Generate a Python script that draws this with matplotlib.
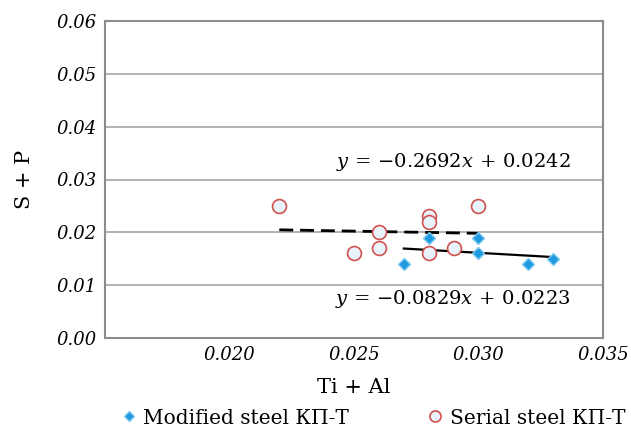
import numpy as np
import matplotlib
matplotlib.use("Agg")
import matplotlib.pyplot as plt

# Modified steel (diamonds)
mod_x = [0.027, 0.028, 0.030, 0.030, 0.032, 0.033]
mod_y = [0.014, 0.019, 0.019, 0.016, 0.014, 0.015]

# Serial steel (circles)
ser_x = [0.022, 0.025, 0.026, 0.026, 0.028, 0.028, 0.028, 0.029, 0.030]
ser_y = [0.025, 0.016, 0.020, 0.017, 0.023, 0.022, 0.016, 0.017, 0.025]

# trend lines: slope, intercept
fit_solid = (-0.2692, 0.0242)
fit_dash = (-0.0829, 0.0223)

x_ticks = [0.020, 0.025, 0.030, 0.035]
y_ticks = [0.00, 0.01, 0.02, 0.03, 0.04, 0.05, 0.06]

plt.rcParams['font.family'] = ['DejaVu Serif']
plt.rcParams['mathtext.fontset'] = 'dejavuserif'

fig = plt.figure(figsize=(6.31, 4.30), dpi=100)
ax = fig.add_axes([105 / 631, 1 - 338 / 430, 498 / 631, 317 / 430])

ax.set_xlim(0.015, 0.035)
ax.set_ylim(0, 0.06)
ax.set_yticks(y_ticks)
ax.set_xticks(x_ticks)
ax.set_yticklabels(['%.2f' % v for v in y_ticks], fontstyle='italic', fontsize=13)
ax.set_xticklabels(['%.3f' % v for v in x_ticks], fontstyle='italic', fontsize=13)
ax.tick_params(length=0, pad=6)
ax.grid(axis='y', color='#a6a6a6', lw=1.2)
ax.set_axisbelow(True)
for s in ax.spines.values():
    s.set_color('#8c8c8c')
    s.set_linewidth(1.5)

# trend lines
xs = np.array([min(mod_x), max(mod_x)])
ax.plot(xs, fit_solid[0] * xs + fit_solid[1], color='black', lw=1.6, zorder=2)
xd = np.array([min(ser_x), max(ser_x)])
ax.plot(xd, fit_dash[0] * xd + fit_dash[1], color='black', lw=2, ls=(0, (5, 2.5)), zorder=2)

ax.plot(mod_x, mod_y, 'D', ms=6.5, mfc='#1f9ae0', mec='#7cc8f0', mew=1.0,
        ls='none', label='Modified steel КП-Т', zorder=3)
ax.plot(ser_x, ser_y, 'o', ms=10, mfc='#e8f3fb', mec='#d0524f', mew=1.2,
        ls='none', label='Serial steel КП-Т', zorder=3)

ax.text(0.0337, 0.0333, r'$y\,=\,{-}0.2692x\,+\,0.0242$', fontsize=14, ha='right', va='center')
ax.text(0.0337, 0.0073, r'$y\,=\,{-}0.0829x\,+\,0.0223$', fontsize=14, ha='right', va='center')

ax.set_ylabel('S + P', fontsize=15, labelpad=16)
ax.set_xlabel('Ti + Al', fontsize=15, labelpad=10)

fig.legend(loc='center', bbox_to_anchor=(0.591, 1 - 418 / 430), ncol=2, frameon=False,
           fontsize=14.5, handlelength=0.8, handletextpad=0.3, columnspacing=3.9,
           markerscale=0.8, borderaxespad=0)

fig.savefig('out.png', dpi=100)
